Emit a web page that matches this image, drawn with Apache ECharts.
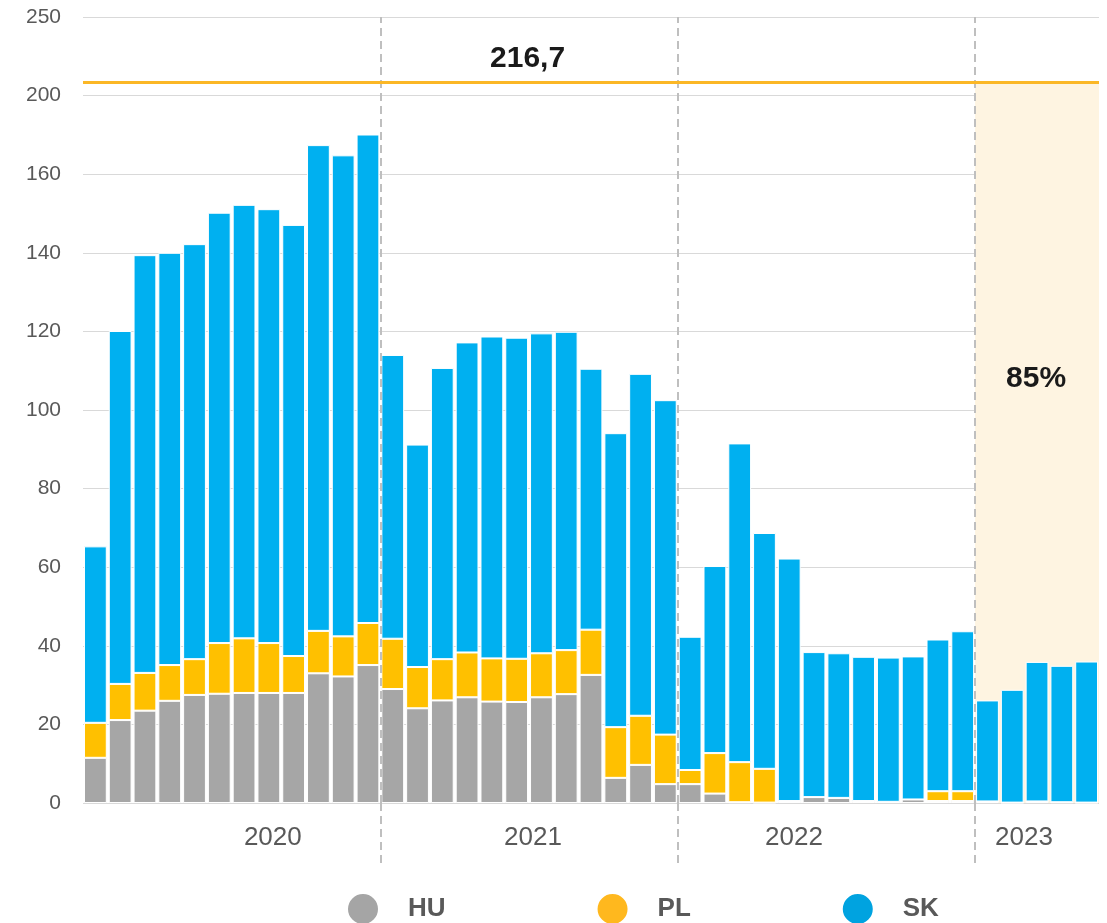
<!DOCTYPE html>
<html>
<head>
<meta charset="utf-8">
<title>HU PL SK</title>
<script src="https://cdn.jsdelivr.net/npm/echarts@6/dist/echarts.min.js"></script>
<style>
    html, body {margin: 0; padding: 0; background: #fff;}
    #chart {width: 1107px; height: 923px;}
</style>
</head>
<body>
<div id="chart"></div>
<script>
// years and how many monthly bars each one has
var years = ['2020', '2021', '2022', '2023'];
var monthsInYear = [12, 12, 12, 5];
// where the year label sits, in bar units from the left edge
var yearLabelPos = [7.66, 18.16, 28.69, 37.97];
// year boundaries (dashed lines)
var yearBreaks = [12, 24, 36];

var huValues = [11.5, 21.1, 23.5, 26.0, 27.5, 27.8, 28.0, 28.0, 28.0, 33.0, 32.2, 35.1,
    29.0, 24.1, 26.1, 26.9, 25.8, 25.7, 26.9, 27.7, 32.6, 6.4, 9.7, 4.8,
    4.8, 2.4, 0.2, 0.1, 0.5, 1.5, 1.3, 0.5, 0.3, 0.9, 0.5, 0.5,
    0.4, 0.1, 0.4, 0.2, 0.1];
var plValues = [8.9, 9.2, 9.6, 9.1, 9.1, 12.9, 13.9, 12.7, 9.4, 10.8, 10.2, 10.7,
    12.8, 10.5, 10.5, 11.4, 11.0, 11.0, 11.2, 11.2, 11.5, 12.9, 12.5, 12.6,
    3.6, 10.3, 10.2, 8.6, 0, 0, 0, 0, 0, 0, 2.5, 2.5,
    0, 0, 0, 0, 0];
var skValues = [44.9, 89.8, 106.3, 104.9, 105.6, 109.5, 110.3, 110.4, 109.7, 123.6, 122.4, 124.3,
    72.2, 56.6, 74.1, 78.9, 81.9, 81.7, 81.4, 81.0, 66.4, 74.8, 87.0, 85.1,
    33.9, 47.6, 81.1, 60.0, 61.7, 36.9, 36.8, 36.7, 36.7, 36.4, 38.6, 40.7,
    25.7, 28.7, 35.5, 34.7, 35.9];

// y axis is broken at the top: tick 180 shows 200, tick 200 shows 250
var yTickLabels = {180: '200', 200: '250'};
// target line (drawn where it sits on the broken axis) and shaded share
var targetLevel = 183.4;
var targetText = '216,7';
var targetTextPos = [17.94, 189.4];
var shareText = '85%';
var shareTextPos = [38.46, 107.9];

var categories = [];
years.forEach(function (y, i) {
    for (var m = 1; m <= monthsInYear[i]; m++) {
        categories.push(y + '-' + (m < 10 ? '0' + m : m));
    }
});
var barCount = categories.length;

var chart = echarts.init(document.getElementById('chart'), null, {renderer: 'canvas'});

var barSeries = function (name, data, color) {
    return {
        name: name,
        type: 'bar',
        stack: 'all',
        data: data,
        barCategoryGap: '8%',
        itemStyle: {color: color, borderColor: '#fff', borderWidth: 1},
        z: 3
    };
};

var option = {
    animation: false,
    backgroundColor: '#fff',
    grid: {left: 83, right: 8, top: 17, bottom: 120},
    legend: {
        left: 341,
        top: 887,
        icon: 'circle',
        itemWidth: 32,
        itemHeight: 32,
        itemGap: 150,
        textStyle: {
            fontFamily: 'Liberation Sans',
            fontSize: 26,
            fontWeight: 'bold',
            color: '#595959',
            padding: [0, 0, 0, 24]
        },
        data: [
            {name: 'HU', itemStyle: {color: '#a5a5a5'}},
            {name: 'PL', itemStyle: {color: '#ffb81e'}},
            {name: 'SK', itemStyle: {color: '#00a3e0'}}
        ]
    },
    xAxis: [
        {
            type: 'category',
            data: categories,
            axisLine: {show: false},
            axisTick: {show: false},
            axisLabel: {show: false}
        },
        {
            type: 'value',
            position: 'bottom',
            min: 0,
            max: barCount,
            axisLine: {show: false},
            splitLine: {show: false},
            axisTick: {
                show: true,
                customValues: yearBreaks,
                length: 62,
                lineStyle: {color: '#bfbfbf', width: 2, type: [8, 5]}
            },
            axisLabel: {
                customValues: yearLabelPos,
                margin: 22,
                fontFamily: 'Liberation Sans',
                fontSize: 26,
                color: '#595959',
                formatter: function (v) {
                    for (var i = 0; i < yearLabelPos.length; i++) {
                        if (Math.abs(yearLabelPos[i] - v) < 0.01) return years[i];
                    }
                    return '';
                }
            }
        }
    ],
    yAxis: {
        type: 'value',
        min: 0,
        max: 200,
        interval: 20,
        axisLine: {show: false},
        axisTick: {show: false},
        splitLine: {lineStyle: {color: '#d9d9d9', width: 1}},
        axisLabel: {
            margin: 22,
            fontFamily: 'Liberation Sans',
            fontSize: 21,
            color: '#595959',
            formatter: function (v) {
                return yTickLabels[v] || String(v);
            }
        }
    },
    series: [
        {
            // shaded 2023 area, under the bars
            type: 'line',
            xAxisIndex: 1,
            data: [[0, 0]],
            showSymbol: false,
            lineStyle: {opacity: 0},
            silent: true,
            z: 1,
            markArea: {
                silent: true,
                itemStyle: {color: '#fef4e1'},
                data: [[{xAxis: yearBreaks[2], yAxis: 0}, {xAxis: barCount, yAxis: targetLevel}]]
            }
        },
        barSeries('HU', huValues, '#a6a6a6'),
        barSeries('PL', plValues, '#ffc000'),
        barSeries('SK', skValues, '#00b0f0'),
        {
            // year breaks, target line and the two labels, over the bars
            type: 'line',
            xAxisIndex: 1,
            data: [[0, 0]],
            showSymbol: false,
            lineStyle: {opacity: 0},
            silent: true,
            z: 6,
            markLine: {
                silent: true,
                symbol: 'none',
                label: {show: false},
                lineStyle: {color: '#bfbfbf', width: 2, type: [8, 5]},
                data: yearBreaks.map(function (b) {
                    return {xAxis: b};
                }).concat([{
                    yAxis: targetLevel,
                    lineStyle: {color: '#fbb726', width: 3, type: 'solid'}
                }])
            },
            markPoint: {
                silent: true,
                symbol: 'circle',
                symbolSize: 0,
                label: {
                    show: true,
                    position: 'inside',
                    formatter: '{c}',
                    fontFamily: 'Liberation Sans',
                    fontSize: 30,
                    fontWeight: 'bold',
                    color: '#1a1a1a'
                },
                data: [
                    {coord: targetTextPos, value: targetText},
                    {coord: shareTextPos, value: shareText}
                ]
            }
        }
    ]
};

chart.setOption(option);
</script>
</body>
</html>
